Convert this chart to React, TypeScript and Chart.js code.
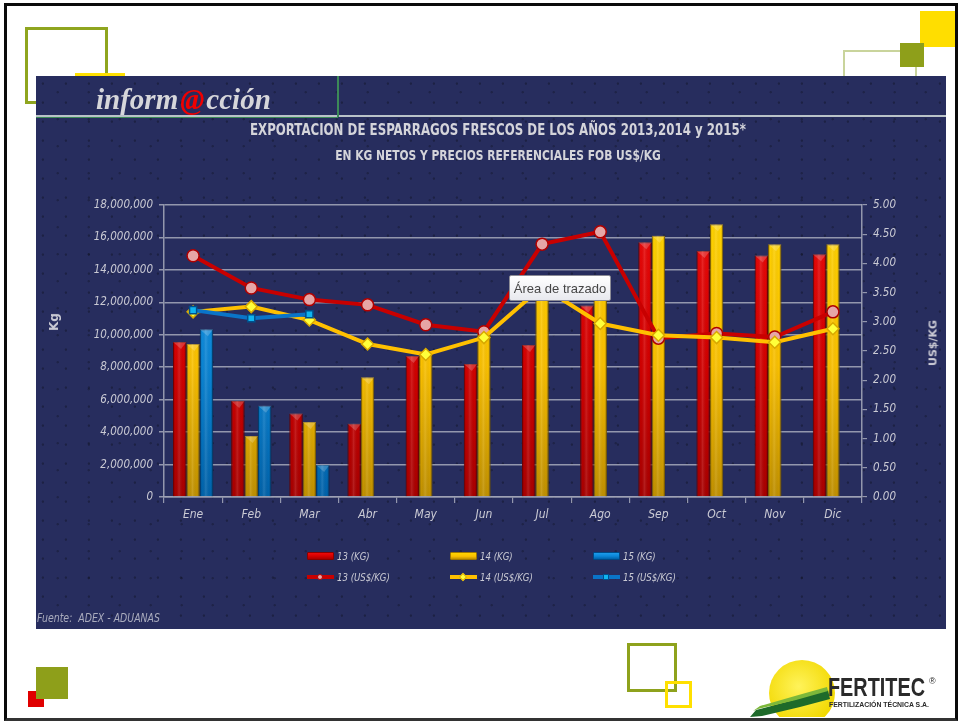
import React, { useEffect, useRef } from "react";
import { Chart, registerables } from "chart.js";

Chart.register(...registerables);

const months = ["Ene", "Feb", "Mar", "Abr", "May", "Jun", "Jul", "Ago", "Sep", "Oct", "Nov", "Dic"];
const kg2013 = [9560000, 5920000, 5140000, 4520000, 8690000, 8200000, 9370000, 11800000, 15700000, 15170000, 14880000, 14960000];
const kg2014 = [9430000, 3760000, 4620000, 7380000, 8850000, 10100000, 12600000, 12500000, 16110000, 16810000, 15580000, 15580000];
const kg2015 = [10340000, 5630000, 1970000, null, null, null, null, null, null, null, null, null];
const usd2013 = [4.13, 3.58, 3.38, 3.29, 2.95, 2.83, 4.33, 4.54, 2.72, 2.8, 2.74, 3.17];
const usd2014 = [3.17, 3.26, 3.03, 2.62, 2.44, 2.73, 3.6, 2.97, 2.77, 2.73, 2.65, 2.88];
const usd2015 = [3.2, 3.06, 3.13, null, null, null, null, null, null, null, null, null];

const barLabels = ["13 (KG)", "14 (KG)", "15 (KG)"];
const lineLabels = ["13 (US$/KG)", "14 (US$/KG)", "15 (US$/KG)"];
const kgTicks = { min: 0, max: 18000000, step: 2000000 };
const usdTicks = { min: 0, max: 5, step: 0.5 };

const barColors = [
  { top: "#EE0A0A", mid: "#D20000", bot: "#A80000", border: "#8A0000" },
  { top: "#FFD400", mid: "#FAC000", bot: "#C09000", border: "#A07800" },
  { top: "#1C9CEC", mid: "#0A84D4", bot: "#0062AA", border: "#004A86" },
];
const lineStyles = [
  { color: "#C80000", pt: "circle", bg: "#E6A6A6", bd: "#B00000", r: 6 },
  { color: "#FFC000", pt: "rectRot", bg: "#FFFF3A", bd: "#D9A800", r: 6 },
  { color: "#0A74C8", pt: "rect", bg: "#10B4F0", bd: "#00508C", r: 5 },
];

const NAVY = "#272D5E";
const GRID = "rgba(160,163,182,0.9)";
const TICK = "#CACAD4";
const COND = "'DejaVu Sans Condensed', 'DejaVu Sans', sans-serif";

const barShade = {
  id: "barShade",
  afterDatasetDraw(chart: any, args: any) {
    const meta = args.meta;
    if (meta.type !== "bar") return;
    const c = chart.ctx;
    const ds = chart.data.datasets[args.index];
    meta.data.forEach((el: any, i: number) => {
      if (ds.data[i] == null) return;
      const p = el.getProps(["x", "y", "base", "width"], true);
      if (!isFinite(p.y) || !isFinite(p.base)) return;
      const l = p.x - p.width / 2;
      const w = p.width;
      const g = c.createLinearGradient(l, 0, l + w, 0);
      g.addColorStop(0, "rgba(0,0,0,0.22)");
      g.addColorStop(0.18, "rgba(0,0,0,0.0)");
      g.addColorStop(0.45, "rgba(255,255,255,0.12)");
      g.addColorStop(0.8, "rgba(0,0,0,0.0)");
      g.addColorStop(1, "rgba(0,0,0,0.25)");
      c.save();
      c.fillStyle = g;
      c.fillRect(l, p.y, w, p.base - p.y);
      c.beginPath();
      c.moveTo(l, p.y);
      c.lineTo(l + w, p.y);
      c.lineTo(p.x + w * 0.1, p.y + 7);
      c.closePath();
      c.fillStyle = "rgba(255,255,255,0.2)";
      c.fill();
      c.restore();
    });
  },
};

function vertGrad(chart: any, col: any) {
  const area = chart.chartArea;
  if (!area) return col.mid;
  const g = chart.ctx.createLinearGradient(0, area.top, 0, area.bottom);
  g.addColorStop(0, col.top);
  g.addColorStop(0.55, col.mid);
  g.addColorStop(1, col.bot);
  return g;
}

function ChartCanvas() {
  const ref = useRef<HTMLCanvasElement | null>(null);
  useEffect(() => {
    if (!ref.current) return;
    const kgData = [kg2013, kg2014, kg2015];
    const usdData = [usd2013, usd2014, usd2015];
    const lineDs = lineLabels.map((label, i) => ({
      type: "line" as const,
      label,
      data: usdData[i],
      yAxisID: "y1",
      borderColor: lineStyles[i].color,
      borderWidth: 4,
      pointStyle: lineStyles[i].pt,
      pointRadius: lineStyles[i].r,
      pointBackgroundColor: lineStyles[i].bg,
      pointBorderColor: lineStyles[i].bd,
      pointBorderWidth: 1.5,
      tension: 0,
      order: 2 - i,
    }));
    const barDs = barLabels.map((label, i) => ({
      type: "bar" as const,
      label,
      data: kgData[i],
      yAxisID: "y",
      backgroundColor: (ctx: any) => vertGrad(ctx.chart, barColors[i]),
      borderColor: barColors[i].border,
      borderWidth: 1,
      categoryPercentage: 0.69,
      barPercentage: 1,
      order: 5,
    }));
    const tickFont = { family: COND, size: 11.5, style: "italic" as const };
    const chart = new Chart(ref.current, {
      type: "bar",
      data: { labels: months, datasets: [...barDs, ...lineDs] as any },
      plugins: [barShade],
      options: {
        animation: false,
        responsive: false,
        maintainAspectRatio: false,
        layout: { padding: { top: 129, left: 0, right: 0, bottom: 0 } },
        plugins: { legend: { display: false }, tooltip: { enabled: false }, title: { display: false } },
        scales: {
          x: {
            offset: true,
            afterFit: (s: any) => { s.height = 132; },
            grid: { display: true, drawOnChartArea: false, drawTicks: true, tickLength: 6, color: GRID, lineWidth: 1.2, offset: true },
            border: { display: true, color: GRID, width: 1.5 },
            ticks: { color: TICK, font: { family: COND, size: 12, style: "italic" }, padding: 5, maxRotation: 0 },
          },
          y: {
            position: "left",
            min: kgTicks.min,
            max: kgTicks.max,
            afterFit: (s: any) => { s.width = 128; },
            grid: { color: GRID, lineWidth: 1.5, tickLength: 5 },
            border: { display: true, color: GRID, width: 1.5 },
            ticks: {
              stepSize: kgTicks.step,
              color: TICK,
              font: tickFont,
              padding: 6,
              callback: (v: any) => (Number(v) === 0 ? "0" : Number(v).toLocaleString("en-US")),
            },
          },
          y1: {
            position: "right",
            min: usdTicks.min,
            max: usdTicks.max,
            afterFit: (s: any) => { s.width = 84; },
            grid: { drawOnChartArea: false, color: GRID, lineWidth: 1.2, tickLength: 5 },
            border: { display: true, color: GRID, width: 1.5 },
            ticks: {
              stepSize: usdTicks.step,
              color: TICK,
              font: tickFont,
              padding: 6,
              callback: (v: any) => Number(v).toFixed(2),
            },
          },
        },
      } as any,
    });
    return () => chart.destroy();
  }, []);
  return <canvas ref={ref} width={910} height={553} style={{ position: "absolute", left: 0, top: 0, width: 910, height: 553 }} />;
}

function LegendSwatch({ kind, i }: { kind: "bar" | "line"; i: number }) {
  if (kind === "bar") {
    const c = barColors[i];
    return (
      <div style={{ width: 27, height: 8, background: `linear-gradient(${c.top}, ${c.mid} 55%, ${c.bot})`, border: `1px solid ${c.border}`, borderRadius: 1, boxSizing: "border-box" }} />
    );
  }
  const s = lineStyles[i];
  const marker: any = { position: "absolute", left: 10, top: -1, width: 6, height: 6, background: s.bg, border: `1px solid ${s.bd}`, boxSizing: "border-box" };
  if (s.pt === "circle") marker.borderRadius = "50%";
  if (s.pt === "rectRot") marker.transform = "rotate(45deg)";
  return (
    <div style={{ position: "relative", width: 27, height: 4 }}>
      <div style={{ position: "absolute", left: 0, top: 0, width: 27, height: 4, background: s.color }} />
      <div style={marker} />
    </div>
  );
}

function Legend() {
  const cols = [307, 450, 593];
  const rows = [556, 577];
  const items: any[] = [];
  barLabels.forEach((l, i) => items.push({ label: l, kind: "bar", i, x: cols[i], y: rows[0] }));
  lineLabels.forEach((l, i) => items.push({ label: l, kind: "line", i, x: cols[i], y: rows[1] }));
  return (
    <>
      {items.map((it, k) => (
        <div key={k} style={{ position: "absolute", left: it.x, top: it.y - 8, height: 16, display: "flex", alignItems: "center" }}>
          <LegendSwatch kind={it.kind} i={it.i} />
          <span style={{ marginLeft: 3, fontFamily: COND, fontStyle: "italic", fontSize: 11, color: TICK, whiteSpace: "nowrap", display: "inline-block", transform: "scaleX(0.87)", transformOrigin: "left center" }}>{it.label}</span>
        </div>
      ))}
    </>
  );
}

function Logo() {
  return (
    <svg width={959} height={722} style={{ position: "absolute", left: 0, top: 0, pointerEvents: "none" }}>
      <defs>
        <radialGradient id="sun" cx="0.45" cy="0.4" r="0.6">
          <stop offset="0" stopColor="#FFF35A" />
          <stop offset="1" stopColor="#F2D800" />
        </radialGradient>
        <clipPath id="clipPage">
          <rect x={7} y={6} width={948} height={711} />
        </clipPath>
      </defs>
      <g clipPath="url(#clipPage)">
        <circle cx={802} cy={693} r={33} fill="url(#sun)" />
        <polygon points="750,717 756,710 790,701 828,690 830,699 800,707 762,716" fill="#1E6A2A" />
        <polygon points="753,711 760,706 795,696 827,687 828,691 796,700 758,709" fill="#7DB83A" />
      </g>
      <text x={828} y={696} fontFamily="'Liberation Sans', Arial, sans-serif" fontWeight="bold" fontSize={26} fill="#2A2A2A" textLength={97} lengthAdjust="spacingAndGlyphs">FERTITEC</text>
      <text x={929} y={684} fontFamily="'Liberation Sans', Arial, sans-serif" fontSize={9} fill="#2A2A2A">®</text>
      <text x={829} y={707} fontFamily="'Liberation Sans', Arial, sans-serif" fontWeight="bold" fontSize={7.5} fill="#2A2A2A" textLength={100} lengthAdjust="spacingAndGlyphs">FERTILIZACIÓN TÉCNICA S.A.</text>
    </svg>
  );
}

export default function App() {
  const abs = (s: any) => ({ position: "absolute" as const, ...s });
  const texture =
    "radial-gradient(circle at 30% 40%, rgba(10,12,20,0.35) 0.8px, transparent 1.6px), radial-gradient(circle at 70% 60%, rgba(10,12,20,0.3) 0.8px, transparent 1.6px)";
  return (
    <div style={{ position: "absolute", left: 0, top: 0, width: 959, height: 722, background: "#fff", overflow: "hidden" }}>
      {/* decorations behind the panel */}
      <div style={abs({ left: 25, top: 27, width: 83, height: 77, border: "3px solid #8FA51F", boxSizing: "border-box" })} />
      <div style={abs({ left: 75, top: 73, width: 50, height: 40, border: "3px solid #FFE000", boxSizing: "border-box" })} />
      <div style={abs({ left: 843, top: 50, width: 74, height: 60, border: "2px solid #C9D49C", boxSizing: "border-box" })} />
      <div style={abs({ left: 920, top: 11, width: 36, height: 36, background: "#FFDE00" })} />
      <div style={abs({ left: 900, top: 43, width: 24, height: 24, background: "#8E9F1A" })} />
      <div style={abs({ left: 28, top: 691, width: 16, height: 16, background: "#E00000" })} />
      <div style={abs({ left: 36, top: 667, width: 32, height: 32, background: "#8E9F1A" })} />
      <div style={abs({ left: 627, top: 643, width: 50, height: 49, border: "3px solid #8EA21D", boxSizing: "border-box" })} />
      <div style={abs({ left: 665, top: 681, width: 27, height: 27, border: "3px solid #FFE000", boxSizing: "border-box" })} />

      {/* navy panel */}
      <div style={abs({ left: 36, top: 76, width: 910, height: 553, backgroundColor: NAVY, backgroundImage: texture, backgroundSize: "23px 19px, 31px 27px" })}>
        <ChartCanvas />
        <div style={abs({ left: 0, top: 39, width: 910, height: 2, background: "#B9C2C8" })} />
        <div style={abs({ left: 0, top: 41, width: 302, height: 1, background: "#3C8A58" })} />
        <div style={abs({ left: 301, top: 0, width: 2, height: 41, background: "#3C8A58" })} />
        <div style={abs({ left: 60, top: 5, whiteSpace: "nowrap", fontFamily: "'Liberation Serif', 'DejaVu Serif', serif", fontStyle: "italic", fontWeight: "bold", fontSize: 29, lineHeight: "36px", color: "#D6D6DA" })}>
          inform<span style={{ color: "#F00000", margin: "0 2px" }}>@</span>cción
        </div>
        <div style={abs({ left: 160, top: 44, width: 600, textAlign: "center", fontFamily: COND, fontWeight: "bold", fontSize: 16, lineHeight: "20px", color: "#D4D4DA", whiteSpace: "nowrap", transform: "scaleX(0.82)", transformOrigin: "center" })}>
          EXPORTACION DE ESPARRAGOS FRESCOS DE LOS AÑOS 2013,2014 y 2015*
        </div>
        <div style={abs({ left: 162, top: 70, width: 600, textAlign: "center", fontFamily: COND, fontWeight: "bold", fontSize: 14, lineHeight: "18px", color: "#D4D4DA", whiteSpace: "nowrap", transform: "scaleX(0.85)", transformOrigin: "center" })}>
          EN KG NETOS Y PRECIOS REFERENCIALES FOB US$/KG
        </div>
        <div style={abs({ left: 17.5, top: 246, transform: "translate(-50%,-50%) rotate(-90deg)", fontFamily: "'DejaVu Sans', sans-serif", fontWeight: "bold", fontSize: 12, color: TICK, whiteSpace: "nowrap" })}>Kg</div>
        <div style={abs({ left: 897, top: 267, transform: "translate(-50%,-50%) rotate(-90deg)", fontFamily: "'DejaVu Sans', sans-serif", fontWeight: "bold", fontSize: 11, color: TICK, whiteSpace: "nowrap" })}>US$/KG</div>
        <div style={abs({ left: 1, top: 535, fontFamily: COND, fontStyle: "italic", fontSize: 12, color: "#A9ABBD", whiteSpace: "nowrap", transform: "scaleX(0.87)", transformOrigin: "left center" })}>Fuente:&nbsp; ADEX - ADUANAS</div>
      </div>

      <Legend />

      {/* "Área de trazado" hint box */}
      <div style={abs({ left: 509, top: 275, width: 102, height: 26, boxSizing: "border-box", border: "1px solid #8C8C96", borderRadius: 2, background: "linear-gradient(#FFFFFF, #E8E9EE)", fontFamily: "'Liberation Sans', Arial, sans-serif", fontSize: 13, color: "#454545", display: "flex", alignItems: "center", justifyContent: "center", whiteSpace: "nowrap" })}>
        Área de trazado
      </div>

      <Logo />

      {/* page frame */}
      <div style={abs({ left: 4, top: 3, width: 954, height: 718, border: "3px solid #0A0A0A", borderBottomColor: "#333", boxSizing: "border-box" })} />
    </div>
  );
}
